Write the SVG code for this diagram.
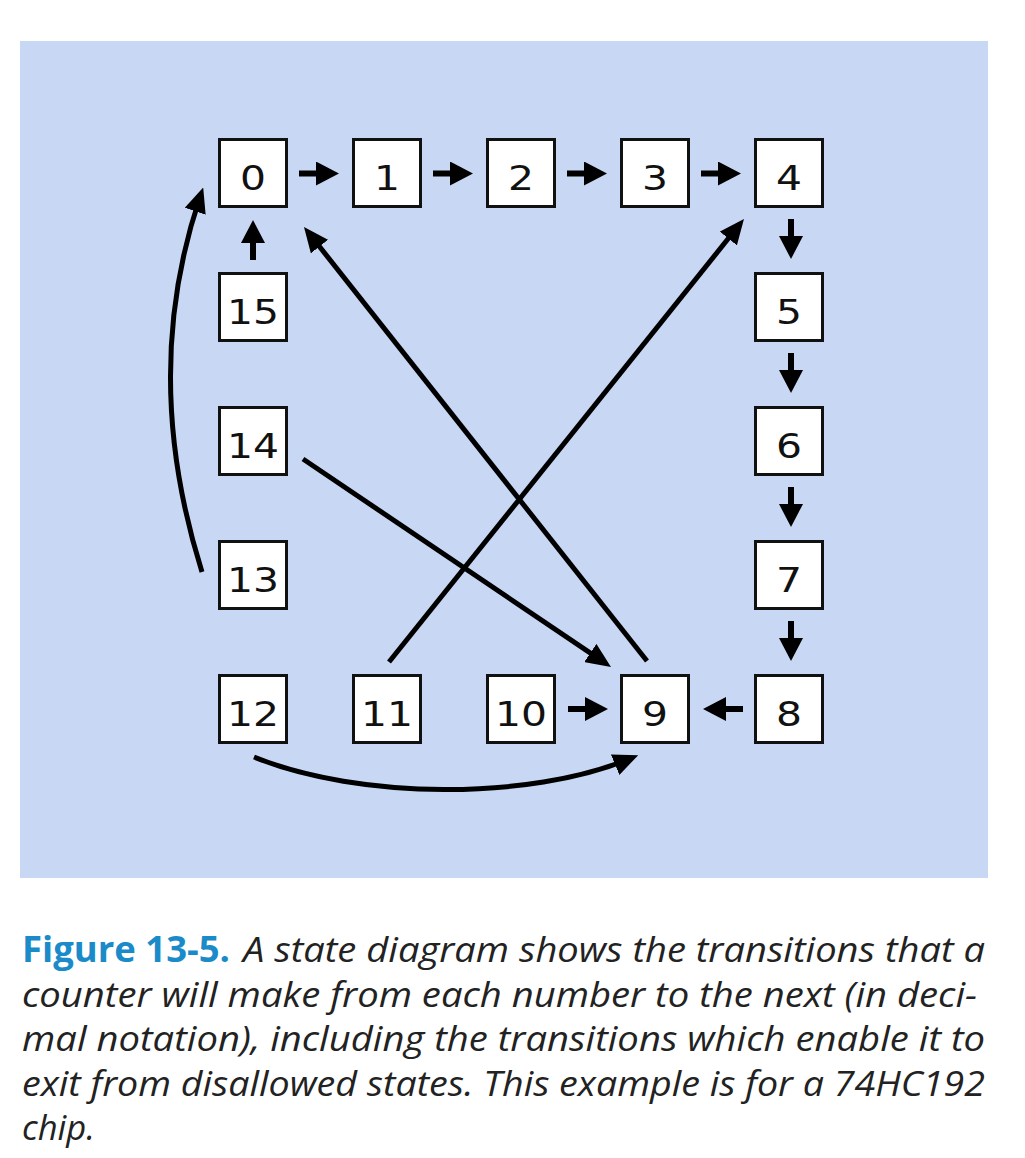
<svg xmlns="http://www.w3.org/2000/svg" width="1025" height="1158" viewBox="0 0 1025 1158">
<style>
.box rect{fill:#fff;stroke:#111;stroke-width:3}
.box text{font-family:"DejaVu Sans",sans-serif;font-size:34px;fill:#111;text-anchor:middle}
.s{stroke:#000;stroke-width:6;fill:none}
.l{stroke:#000;stroke-width:5;fill:none}
.cap{font-family:"Open Sans","Liberation Sans",sans-serif;font-size:35px;fill:#222;font-style:italic}
.fig{font-family:"Open Sans","Liberation Sans",sans-serif;font-size:35px;fill:#1a8bc8;font-weight:bold}
</style>
<defs>
<marker id="ms" markerUnits="userSpaceOnUse" viewBox="0 0 23 24" markerWidth="23" markerHeight="24" refX="13" refY="12" orient="auto"><path d="M0,0 L23,12 L0,24 Z" fill="#000"/></marker>
<marker id="ml" markerUnits="userSpaceOnUse" viewBox="0 0 25 22" markerWidth="25" markerHeight="22" refX="15" refY="11" orient="auto"><path d="M0,0 L25,11 L0,22 Z" fill="#000"/></marker>
</defs>
<rect x="20" y="41" width="968" height="837" fill="#c8d7f4"/>
<g id="n0" class="box"><rect x="219.5" y="139.5" width="67" height="67"/><text x="253" y="190" textLength="26" lengthAdjust="spacingAndGlyphs">0</text></g>
<g id="n1" class="box"><rect x="353.5" y="139.5" width="67" height="67"/><text x="387" y="190" textLength="26" lengthAdjust="spacingAndGlyphs">1</text></g>
<g id="n2" class="box"><rect x="487.5" y="139.5" width="67" height="67"/><text x="521" y="190" textLength="26" lengthAdjust="spacingAndGlyphs">2</text></g>
<g id="n3" class="box"><rect x="621.5" y="139.5" width="67" height="67"/><text x="655" y="190" textLength="26" lengthAdjust="spacingAndGlyphs">3</text></g>
<g id="n4" class="box"><rect x="755.5" y="139.5" width="67" height="67"/><text x="789" y="190" textLength="26" lengthAdjust="spacingAndGlyphs">4</text></g>
<g id="n5" class="box"><rect x="755.5" y="273.5" width="67" height="67"/><text x="789" y="324" textLength="26" lengthAdjust="spacingAndGlyphs">5</text></g>
<g id="n6" class="box"><rect x="755.5" y="407.5" width="67" height="67"/><text x="789" y="458" textLength="26" lengthAdjust="spacingAndGlyphs">6</text></g>
<g id="n7" class="box"><rect x="755.5" y="541.5" width="67" height="67"/><text x="789" y="592" textLength="26" lengthAdjust="spacingAndGlyphs">7</text></g>
<g id="n8" class="box"><rect x="755.5" y="675.5" width="67" height="67"/><text x="789" y="726" textLength="26" lengthAdjust="spacingAndGlyphs">8</text></g>
<g id="n9" class="box"><rect x="621.5" y="675.5" width="67" height="67"/><text x="655" y="726" textLength="26" lengthAdjust="spacingAndGlyphs">9</text></g>
<g id="n10" class="box"><rect x="487.5" y="675.5" width="67" height="67"/><text x="521" y="726" textLength="52" lengthAdjust="spacingAndGlyphs">10</text></g>
<g id="n11" class="box"><rect x="353.5" y="675.5" width="67" height="67"/><text x="387" y="726" textLength="52" lengthAdjust="spacingAndGlyphs">11</text></g>
<g id="n12" class="box"><rect x="219.5" y="675.5" width="67" height="67"/><text x="253" y="726" textLength="52" lengthAdjust="spacingAndGlyphs">12</text></g>
<g id="n13" class="box"><rect x="219.5" y="541.5" width="67" height="67"/><text x="253" y="592" textLength="52" lengthAdjust="spacingAndGlyphs">13</text></g>
<g id="n14" class="box"><rect x="219.5" y="407.5" width="67" height="67"/><text x="253" y="458" textLength="52" lengthAdjust="spacingAndGlyphs">14</text></g>
<g id="n15" class="box"><rect x="219.5" y="273.5" width="67" height="67"/><text x="253" y="324" textLength="52" lengthAdjust="spacingAndGlyphs">15</text></g>
<g id="connectors">
<line class="s" x1="299" y1="173.5" x2="329" y2="173.5" marker-end="url(#ms)"/>
<line class="s" x1="433" y1="173.5" x2="463" y2="173.5" marker-end="url(#ms)"/>
<line class="s" x1="567" y1="173.5" x2="597" y2="173.5" marker-end="url(#ms)"/>
<line class="s" x1="701" y1="173.5" x2="731" y2="173.5" marker-end="url(#ms)"/>
<line class="s" x1="791" y1="219" x2="791" y2="249" marker-end="url(#ms)"/>
<line class="s" x1="791" y1="353" x2="791" y2="383" marker-end="url(#ms)"/>
<line class="s" x1="791" y1="487" x2="791" y2="517" marker-end="url(#ms)"/>
<line class="s" x1="791" y1="621" x2="791" y2="651" marker-end="url(#ms)"/>
<line class="s" x1="743" y1="709" x2="713" y2="709" marker-end="url(#ms)"/>
<line class="s" x1="568" y1="709" x2="598" y2="709" marker-end="url(#ms)"/>
<line class="s" x1="253" y1="260" x2="253" y2="230" marker-end="url(#ms)"/>
<line class="l" x1="303" y1="459" x2="602.7" y2="661.4" marker-end="url(#ml)"/>
<line class="l" x1="389" y1="662" x2="737.7" y2="226.8" marker-end="url(#ml)"/>
<line class="l" x1="647" y1="661" x2="310.2" y2="234.8" marker-end="url(#ml)"/>
<path class="l" d="M202,572 Q140,375 200,197" marker-end="url(#ml)"/>
<path class="l" d="M254,757 C360,800 530,800 629,759" marker-end="url(#ml)"/>
</g>
<g id="caption">
<text class="fig" x="22" y="962" textLength="208" lengthAdjust="spacingAndGlyphs">Figure 13-5.</text>
<text class="cap" x="243" y="962" textLength="742" lengthAdjust="spacingAndGlyphs">A state diagram shows the transitions that a</text>
<text class="cap" x="22" y="1006.5" textLength="955" lengthAdjust="spacingAndGlyphs">counter will make from each number to the next (in deci-</text>
<text class="cap" x="22" y="1051" textLength="963" lengthAdjust="spacingAndGlyphs">mal notation), including the transitions which enable it to</text>
<text class="cap" x="22" y="1095.5" textLength="963" lengthAdjust="spacingAndGlyphs">exit from disallowed states. This example is for a 74HC192</text>
<text class="cap" x="22" y="1140" textLength="73" lengthAdjust="spacingAndGlyphs">chip.</text>
</g>
</svg>
